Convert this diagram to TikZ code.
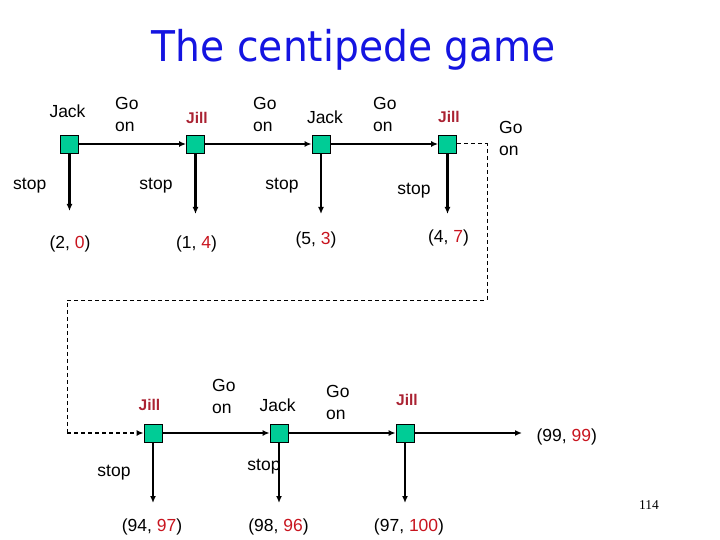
\documentclass[tikz,border=0pt]{standalone}
\usepackage{fontspec}
\setmainfont{Liberation Sans}
\newfontfamily\titlefont{DejaVu Sans}
\newfontfamily\numfont{Liberation Serif}
\usetikzlibrary{arrows.meta}
\definecolor{nodegreen}{RGB}{0,204,150}
\definecolor{jillred}{RGB}{170,34,50}
\definecolor{payred}{RGB}{200,20,30}
\definecolor{titleblue}{RGB}{20,20,225}
\tikzset{
  movebox/.style={draw=black, line width=0.8pt, fill=nodegreen, minimum size=18pt, inner sep=0pt},
  lbl/.style={anchor=base, inner sep=0pt, font=\fontsize{17.5}{22}\selectfont},
  goon/.style={anchor=north west, inner sep=0pt, align=left, font=\fontsize{17.5}{22}\selectfont},
  jill/.style={anchor=base, inner sep=0pt, text=jillred, font=\fontsize{15.5}{18}\selectfont\bfseries},
  edge/.style={line width=2.2pt, -{Latex[length=7pt,width=6pt]}},
  link/.style={line width=1pt, dash pattern=on 4pt off 3pt},
}
\newcommand{\rd}[1]{\textcolor{payred}{#1}}
\begin{document}
\begin{tikzpicture}[x=1pt,y=-1pt]
\useasboundingbox (0,0) rectangle (720,540);
% title
\node[inner sep=0pt, text=titleblue] (title) at (354,49.5) {\resizebox*{404pt}{41pt}{\titlefont The centipede game}};
% top row nodes
\node[movebox] (a1) at (69.5,144) {};
\node[movebox] (a2) at (195.5,144) {};
\node[movebox] (a3) at (321,144) {};
\node[movebox] (a4) at (447.5,144) {};
% bottom row nodes
\node[movebox] (b1) at (153,433) {};
\node[movebox] (b2) at (279,433) {};
\node[movebox] (b3) at (405,433) {};
% end coordinates
\coordinate (s1) at (69.5,211);
\coordinate (s2) at (195.5,214);
\coordinate (s3) at (321,214);
\coordinate (s4) at (447.5,214);
\coordinate (t1) at (153,503);
\coordinate (t2) at (279,503);
\coordinate (t3) at (405,503);
\coordinate (fin) at (522,433);
\coordinate (d1) at (487,144);
\coordinate (d2) at (487,300);
\coordinate (d3) at (67,300);
\coordinate (d4) at (67,433);
% go-on edges
\draw[edge] (a1) -- (a2);
\draw[edge] (a2) -- (a3);
\draw[edge] (a3) -- (a4);
\draw[edge] (b1) -- (b2);
\draw[edge] (b2) -- (b3);
\draw[edge] (b3) -- (fin);
% stop edges
\draw[edge] (a1) -- (s1);
\draw[edge] (a2) -- (s2);
\draw[edge] (a3) -- (s3);
\draw[edge] (a4) -- (s4);
\draw[edge] (b1) -- (t1);
\draw[edge] (b2) -- (t2);
\draw[edge] (b3) -- (t3);
% dashed link
\draw[link] (a4) -- (d1) -- (d2) -- (d3) -- (d4);
\draw[line width=1.8pt, dash pattern=on 4pt off 3pt, -{Latex[length=7pt,width=6pt]}] (d4) -- (b1);
% players
\node[lbl] (p1) at (67.5,118) {Jack};
\node[jill] (p2) at (197,123.3) {Jill};
\node[lbl] (p3) at (325,123.3) {Jack};
\node[jill] (p4) at (449,123) {Jill};
\node[jill] (q1) at (149.5,410.7) {Jill};
\node[lbl] (q2) at (277.7,411.7) {Jack};
\node[jill] (q3) at (407,405) {Jill};
% go on labels
\node[goon] (g1) at (115,97) {Go\\on};
\node[goon] (g2) at (253,97) {Go\\on};
\node[goon] (g3) at (373,97) {Go\\on};
\node[goon] (g4) at (499,121) {Go\\on};
\node[goon] (g5) at (212,379) {Go\\on};
\node[goon] (g6) at (326,385) {Go\\on};
% stop labels
\node[lbl] (st1) at (29.7,190) {stop};
\node[lbl] (st2) at (156,190) {stop};
\node[lbl] (st3) at (282,190) {stop};
\node[lbl] (st4) at (414,195) {stop};
\node[lbl] (st5) at (114,476.7) {stop};
\node[lbl] (st6) at (264,470) {stop};
% payoffs
\node[lbl] (r1) at (70,248) {(2, \rd{0})};
\node[lbl] (r2) at (196.5,248) {(1, \rd{4})};
\node[lbl] (r3) at (316,244) {(5, \rd{3})};
\node[lbl] (r4) at (448.5,243) {(4, \rd{7})};
\node[lbl] (u1) at (152,531.7) {(94, \rd{97})};
\node[lbl] (u2) at (278.5,531.7) {(98, \rd{96})};
\node[lbl] (u3) at (409,531.7) {(97, \rd{100})};
\node[lbl] (u4) at (566.7,441.7) {(99, \rd{99})};
% page number
\node[anchor=base, inner sep=0pt, font=\numfont\fontsize{13.5}{16}\selectfont] (pg) at (649,509) {114};
\end{tikzpicture}
\end{document}
